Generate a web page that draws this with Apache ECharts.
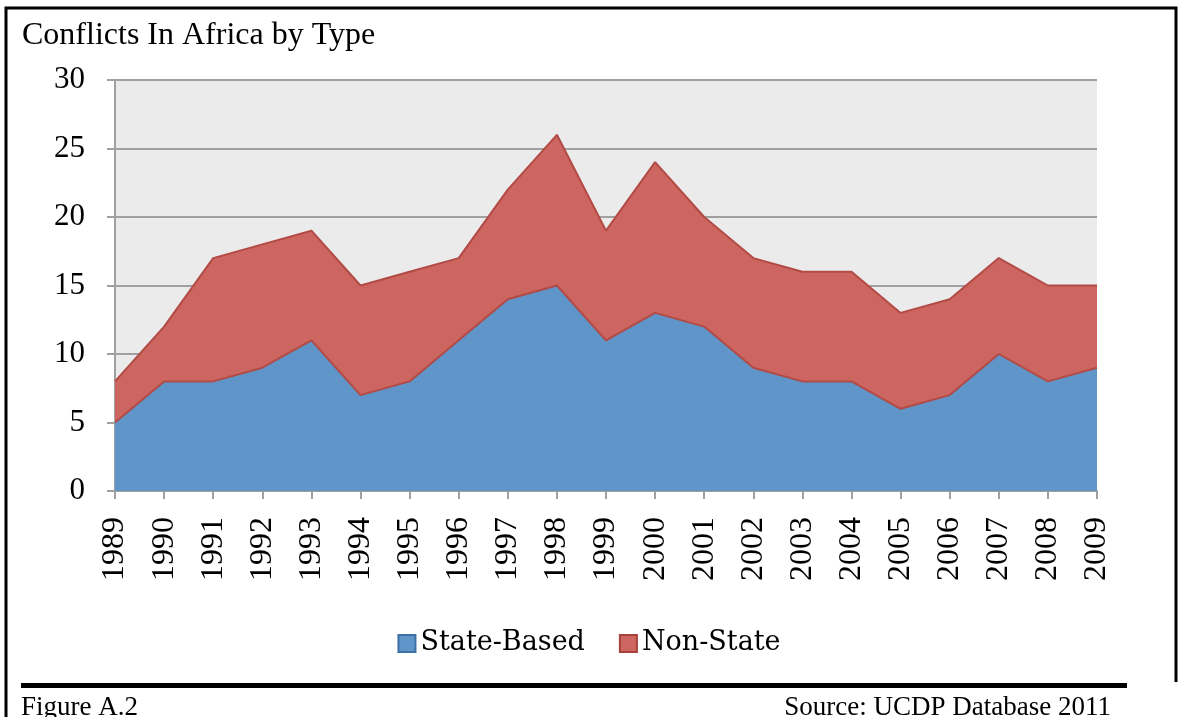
<!DOCTYPE html>
<html>
  <head>
    <title>Conflicts In Africa by Type</title>
    <script src="https://cdn.jsdelivr.net/npm/echarts@6/dist/echarts.min.js"></script>
    <style>
      html, body { margin: 0; padding: 0; background: #fff; }
    </style>
  </head>
  <body>
    <div id="main" style="width: 1178px; height: 717px"></div>
    <script>
      // data
      var years = ["1989", "1990", "1991", "1992", "1993", "1994", "1995", "1996", "1997", "1998", "1999",
                   "2000", "2001", "2002", "2003", "2004", "2005", "2006", "2007", "2008", "2009"];
      var stateBased = [5, 8, 8, 9, 11, 7, 8, 11, 14, 15, 11, 13, 12, 9, 8, 8, 6, 7, 10, 8, 9];
      var nonState = [3, 4, 9, 9, 8, 8, 8, 6, 8, 11, 8, 11, 8, 8, 8, 8, 7, 7, 7, 7, 6];

      var serif = "Liberation Serif, Times New Roman, serif";
      var myChart = echarts.init(document.getElementById("main"));
      var option = {
        animation: false,
        title: {
          text: "Conflicts In Africa by Type",
          left: 17,
          top: 6,
          textStyle: { fontFamily: serif, fontWeight: "normal", fontSize: 32, color: "#000" },
        },
        legend: {
          bottom: 42,
          left: "center",
          itemWidth: 17,
          itemHeight: 17,
          itemGap: 34,
          icon: "rect",
          data: ["State-Based", "Non-State"],
          textStyle: { fontFamily: "DejaVu Serif, serif", fontSize: 27, color: "#000" },
        },
        grid: {
          left: 115,
          right: 81,
          top: 80,
          bottom: 226,
          show: true,
          backgroundColor: "#ebebeb",
          borderWidth: 0,
        },
        xAxis: {
          type: "category",
          data: years,
          boundaryGap: false,
          axisLine: { lineStyle: { color: "#a0a0a0", width: 2 } },
          axisTick: { length: 8, interval: 0, lineStyle: { color: "#a0a0a0", width: 2 } },
          axisLabel: { rotate: 90, interval: 0, margin: 26, fontFamily: serif, fontSize: 32, color: "#000" },
        },
        yAxis: {
          type: "value",
          min: 0,
          max: 30,
          interval: 5,
          axisLine: { show: true, lineStyle: { color: "#a0a0a0", width: 2 } },
          axisTick: { show: true, length: 8, lineStyle: { color: "#a0a0a0", width: 2 } },
          splitLine: { lineStyle: { color: "#a0a0a0", width: 2 } },
          axisLabel: { margin: 30, fontFamily: serif, fontSize: 31, color: "#000" },
        },
        series: [
          {
            name: "State-Based",
            type: "line",
            stack: "total",
            data: stateBased,
            symbol: "none",
            itemStyle: { color: "#5f95c9", borderColor: "#3e6fa5", borderWidth: 1 },
            lineStyle: { color: "#b24a45", width: 2 },
            areaStyle: { color: "#5f95c9", opacity: 1 },
            z: 3,
          },
          {
            name: "Non-State",
            type: "line",
            stack: "total",
            data: nonState,
            symbol: "none",
            itemStyle: { color: "#cd6660", borderColor: "#a8403b", borderWidth: 1 },
            lineStyle: { color: "#b24a45", width: 2 },
            areaStyle: { color: "#cd6660", opacity: 1 },
            z: 2,
          },
        ],
        graphic: [
          {
            type: "polyline",
            shape: { points: [[6, 717], [6, 8], [1176, 8], [1176, 682]] },
            style: { stroke: "#000", lineWidth: 3, fill: null },
          },
          {
            type: "rect",
            shape: { x: 21, y: 683, width: 1106, height: 5 },
            style: { fill: "#000" },
          },
          {
            type: "text",
            left: 21,
            top: 687,
            style: { text: "Figure A.2", font: "27px " + serif, fill: "#000" },
          },
          {
            type: "text",
            right: 67,
            top: 687,
            style: { text: "Source: UCDP Database 2011", font: "27px " + serif, fill: "#000" },
          },
        ],
      };
      myChart.setOption(option);
    </script>
  </body>
</html>
